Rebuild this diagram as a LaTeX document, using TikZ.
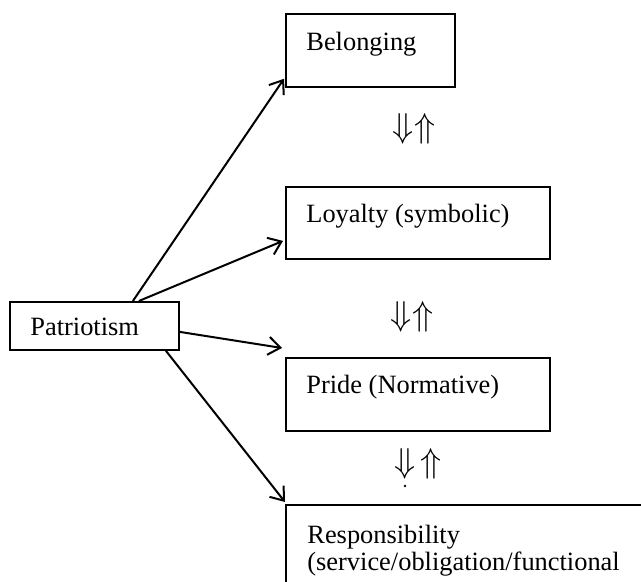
\documentclass[tikz,border=0pt]{standalone}
\usepackage{fontspec}
\setmainfont{Liberation Serif}
\usetikzlibrary{arrows.meta,calc}
\begin{document}
\begin{tikzpicture}[x=0.5pt,y=-0.5pt,
  box/.style={draw,line width=0.9pt,anchor=north west,inner sep=0pt},
  txt/.style={inner sep=0pt,anchor=base west,font=\fontsize{13.2}{15}\selectfont},
  dbl/.style={inner sep=0pt,font=\fontsize{16.5}{18}\selectfont},
  arr/.style={line width=1pt,-{Straight Barb[length=6pt,width=9pt,line width=1pt]}}]
\clip (0,0) rectangle (641,582);
\fill[white] (0,0) rectangle (641,582);
% boxes
\node[box,minimum width=84.5pt,minimum height=24pt] (pat) at (9,301) {};
\node[box,minimum width=84.5pt,minimum height=36.5pt] (bel) at (285,13) {};
\node[box,minimum width=132pt,minimum height=36pt] (loy) at (285,186) {};
\node[box,minimum width=132pt,minimum height=36.5pt] (pri) at (285,357) {};
\node[box,minimum width=190pt,minimum height=60pt] (res) at (285,504) {};
% texts
\node[txt] (patT) at (30,335) {Patriotism};
\node[txt] (belT) at (306,51) {Belonging};
\node[txt] (loyT) at (306,223) {Loyalty (symbolic)};
\node[txt] (priT) at (306,393) {Pride (Normative)};
\node[txt] (resT1) at (307,543) {Responsibility};
\node[txt] (resT2) at (307,570) {(service/obligation/functional};
% double arrows
\node[dbl] (d1) at (414,129) {$\Downarrow\Uparrow$};
\node[dbl] (d2) at (412,317) {$\Downarrow\Uparrow$};
\node[dbl] (d3a) at (405,464) {$\Downarrow$};
\node[dbl] (d3b) at (431,464) {$\Uparrow$};
\node[inner sep=0pt,circle,fill=black,minimum size=1.3pt] (dot) at (405,486) {};
% connectors
\draw[arr] ([xshift=19.25pt]pat.north) -- ([xshift=-0.5pt,yshift=4.5pt]bel.south west);
\draw[arr] ([xshift=22.25pt]pat.north) -- ([xshift=-1pt,yshift=-9pt]loy.west);
\draw[arr] ([yshift=-3pt]pat.east) -- ([xshift=-1.5pt,yshift=4.5pt]pri.north west);
\draw[arr] ([xshift=35.75pt]pat.south) -- ([yshift=1pt]res.north west);
\end{tikzpicture}
\end{document}
